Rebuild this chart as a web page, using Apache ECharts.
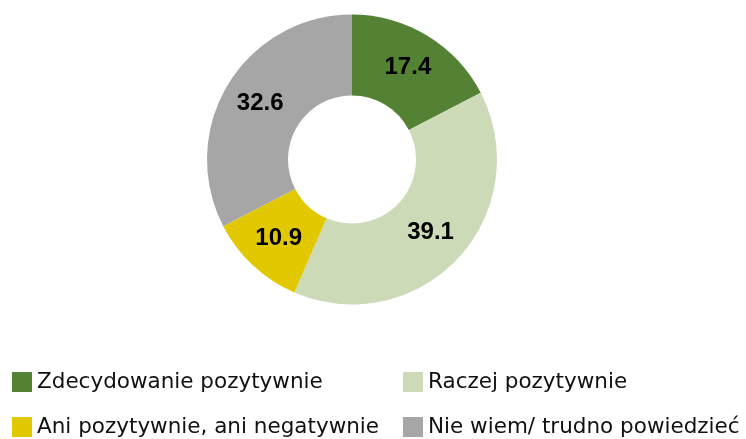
<!DOCTYPE html>
<html><head><meta charset="utf-8">
<script src="https://cdn.jsdelivr.net/npm/echarts@6/dist/echarts.min.js"></script>
<style>html,body{margin:0;padding:0;background:#fff}#c{width:746px;height:439px}</style>
</head><body><div id="c"></div>
<script>
const categories = ["Zdecydowanie pozytywnie", "Raczej pozytywnie", "Ani pozytywnie, ani negatywnie", "Nie wiem/ trudno powiedzieć"];
const values = [17.4, 39.1, 10.9, 32.6];
const colors = ["#548235", "#CCDAB8", "#E2C800", "#A6A6A6"];

const chart = echarts.init(document.getElementById('c'));
const legendText = {fontFamily: "DejaVu Sans", fontSize: 21.5, color: "#111"};
const legendPos = [[7, 366], [398, 366], [7, 411], [398, 411]];
chart.setOption({
  animation: false,
  color: colors,
  legend: categories.map((c, i) => ({
    left: legendPos[i][0], top: legendPos[i][1], itemWidth: 20, itemHeight: 20,
    itemGap: 0, icon: 'rect', textStyle: legendText, data: [c], selectedMode: false
  })),
  series: [{
    type: 'pie',
    center: [352, 159.5],
    radius: [64, 145],
    startAngle: 90,
    clockwise: true,
    label: {
      position: 'inside',
      formatter: p => p.value.toFixed(1),
      fontFamily: "Liberation Sans Narrow, Liberation Sans",
      fontWeight: 'bold',
      fontSize: 24,
      color: '#000'
    },
    labelLine: {show: false},
    emphasis: {disabled: true},
    data: categories.map((n, i) => ({name: n, value: values[i]}))
  }]
});
</script></body></html>
